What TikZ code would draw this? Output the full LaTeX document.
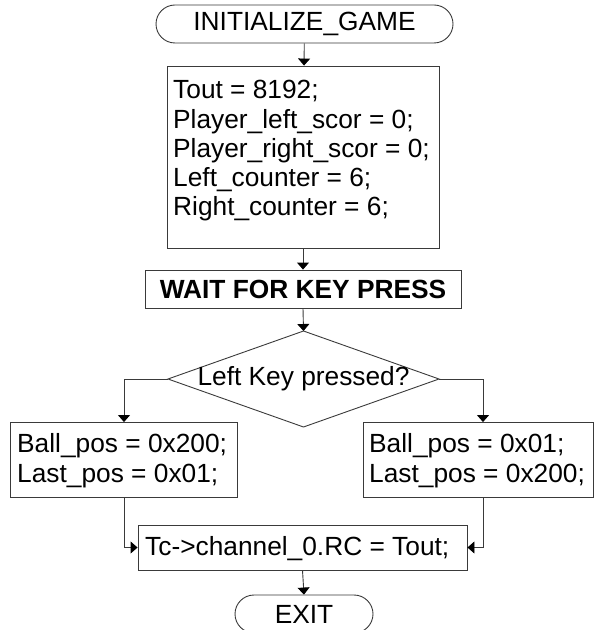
\documentclass[tikz,border=0pt]{standalone}
\usepackage{fontspec}
\setmainfont{Liberation Sans}
\usetikzlibrary{arrows.meta,calc}

\definecolor{linec}{HTML}{3A3A3A}
\newcommand\chartfont{\fontsize{26.3bp}{29.2bp}\selectfont}

\tikzset{
  x=1bp, y=-1bp,
  every node/.style={text=black},
  procbox/.style={draw=linec, line width=0.9bp, rectangle, inner sep=0pt},
  codeline/.style={anchor=base west, inner sep=0pt, font=\chartfont},
  termbox/.style={draw=linec, line width=0.9bp, rectangle,
    rounded corners=19bp, minimum height=38bp, inner sep=0pt,
    font=\chartfont},
  flow/.style={draw=linec, line width=0.9bp,
    -{Triangle[width=12bp,length=7bp,color=black]}},
}

\begin{document}
\begin{tikzpicture}
\useasboundingbox (0,0) rectangle (594,630);

% start terminator
\node[termbox, minimum width=297bp] (init) at (304.5,24) {INITIALIZE\_GAME};

% initialisation block
\node[procbox, minimum width=272bp, minimum height=182bp] (setup) at (303,157) {};
\node[codeline] (s1) at (173,99.0)  {Tout = 8192;};
\node[codeline] (s2) at (173,128.2) {Player\_left\_scor = 0;};
\node[codeline] (s3) at (173,157.4) {Player\_right\_scor = 0;};
\node[codeline] (s4) at (173,186.6) {Left\_counter = 6;};
\node[codeline] (s5) at (173,215.8) {Right\_counter = 6;};

% wait step
\node[procbox, minimum width=316bp, minimum height=38bp,
      font=\chartfont\bfseries] (wait) at (303,289) {WAIT FOR KEY PRESS};

% decision diamond
\coordinate (dt) at (303.5,331);
\coordinate (db) at (303.5,427);
\coordinate (dl) at (168,379);
\coordinate (dr) at (439,379);
\draw[linec, line width=0.9bp] (dt) -- (dr) -- (db) -- (dl) -- cycle;
\node[font=\chartfont, inner sep=0pt] (dec) at (303.5,379) {Left Key pressed?};

% branch blocks
\node[procbox, minimum width=227bp, minimum height=75bp] (lbox) at (124,460) {};
\node[codeline] (l1) at (17,452) {Ball\_pos = 0x200;};
\node[codeline] (l2) at (17,482) {Last\_pos = 0x01;};

\node[procbox, minimum width=230bp, minimum height=75bp] (rbox) at (478,460) {};
\node[codeline] (r1) at (369,452) {Ball\_pos = 0x01;};
\node[codeline] (r2) at (369,482) {Last\_pos = 0x200;};

% channel assignment
\node[procbox, minimum width=329bp, minimum height=45bp] (tc) at (302.5,547.5) {};
\node[codeline] (t1) at (145,555) {Tc->channel\_0.RC = Tout;};

% end terminator
\node[termbox, minimum width=138bp] (exit) at (304,614) {EXIT};

% connectors
\coordinate (lj) at (124,379);
\coordinate (rj) at (483,379);
\draw[flow] (init) -- (setup);
\draw[flow] (setup.south) -- (wait.north);
\draw[flow] (wait.south) -- (dt);
\draw[flow] (dl) -- (lj) -- (lj |- lbox.north);
\draw[flow] (dr) -- (rj) -- (rj |- rbox.north);
\draw[flow] (lj |- lbox.south) |- (tc.west);
\draw[flow] (rj |- rbox.south) |- (tc.east);
\draw[flow] (tc.south) -- (exit.north);
\end{tikzpicture}
\end{document}
